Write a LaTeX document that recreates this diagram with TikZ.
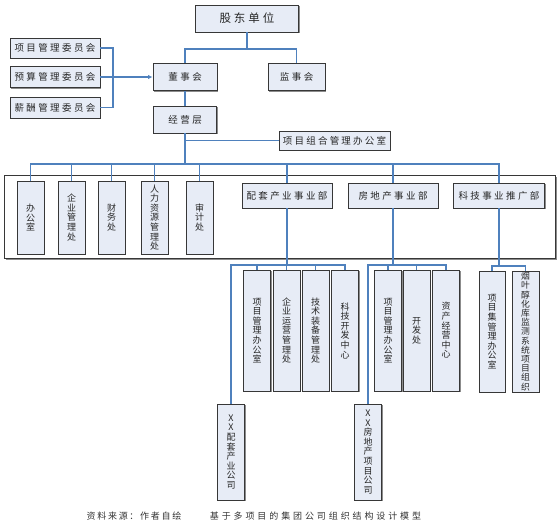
\documentclass[tikz,border=0pt]{standalone}
\usepackage{fontspec}
\setmainfont{Noto Sans CJK SC}
\usetikzlibrary{shadows,arrows.meta}
\definecolor{boxfill}{RGB}{231,236,246}
\definecolor{connc}{RGB}{79,129,189}
\definecolor{edgec}{RGB}{55,55,55}
\makeatletter
\newdimen\cjkgap
\def\cjksp#1#2{\cjkgap=#1\relax\cjksp@a#2\cjksp@end}
\def\cjksp@a#1#2\cjksp@end{#1\ifx\relax#2\relax\else\hspace{\cjkgap}\cjksp@a#2\cjksp@end\fi}
\newtoks\vtoks
\def\vt#1{\vtoks={}\vt@a#1\vt@end\the\vtoks}
\def\vt@a#1#2\vt@end{\vtoks=\expandafter{\the\vtoks#1}\ifx\relax#2\relax\else\vtoks=\expandafter{\the\vtoks\\}\vt@a#2\vt@end\fi}
\makeatother
\begin{document}
\begin{tikzpicture}[x=1pt,y=-1pt,
  box/.style={draw=edgec, line width=0.9pt, fill=boxfill, inner sep=0pt, text=black!85,
    drop shadow={shadow xshift=1.4pt, shadow yshift=-1.4pt, fill=black!45, opacity=1}},
  hbox/.style={box, font=\fontsize{9.5}{11}\selectfont},
  vbox/.style={box, align=center, font=\fontsize{9}{9.6}\selectfont, minimum width=27pt},
  conn/.style={draw=connc, line width=1.1pt},
  capt/.style={font=\fontsize{9}{10}\selectfont, text=black!80, inner sep=0pt}
]
\useasboundingbox (0,0) rectangle (559,531);

% container
\node[draw=edgec, line width=1pt, fill=white, minimum width=551pt, minimum height=83pt, inner sep=0pt,
  drop shadow={shadow xshift=1.6pt, shadow yshift=-1.6pt, fill=black!45, opacity=1}] (ctr) at (279.5,216.5) {};

% top
\node[hbox, minimum width=103pt, minimum height=27pt, font=\fontsize{11.5}{13}\selectfont] (gd) at (247,18.5) {\cjksp{3pt}{股东单位}};
\node[hbox, minimum width=64pt, minimum height=27pt] (dsh) at (185,77) {\cjksp{2.5pt}{董事会}};
\node[hbox, minimum width=57pt, minimum height=27pt] (jsh) at (296.5,77) {\cjksp{2.5pt}{监事会}};
\node[hbox, minimum width=90pt, minimum height=20pt] (c1) at (55,48) {\cjksp{2.4pt}{项目管理委员会}};
\node[hbox, minimum width=90pt, minimum height=21pt] (c2) at (55,77) {\cjksp{2.4pt}{预算管理委员会}};
\node[hbox, minimum width=90pt, minimum height=21pt] (c3) at (55,107.5) {\cjksp{2.4pt}{薪酬管理委员会}};
\node[hbox, minimum width=63pt, minimum height=27pt] (jyc) at (185,119.5) {\cjksp{2.5pt}{经营层}};
\node[hbox, minimum width=111pt, minimum height=19pt] (xm) at (334.5,140.5) {\cjksp{2.2pt}{项目组合管理办公室}};

% functional offices
\node[vbox, minimum height=73pt] (b1) at (30.5,217.5) {\vt{办公室}};
\node[vbox, minimum height=73pt] (b2) at (71.5,217.5) {\vt{企业管理处}};
\node[vbox, minimum height=73pt] (b3) at (111.5,217.5) {\vt{财务处}};
\node[vbox, minimum height=73pt] (b4) at (154.5,217.5) {\vt{人力资源管理处}};
\node[vbox, minimum height=73pt] (b5) at (199.5,217.5) {\vt{审计处}};

% divisions
\node[hbox, minimum width=90pt, minimum height=25pt] (d1) at (287,195.5) {\cjksp{2.4pt}{配套产业事业部}};
\node[hbox, minimum width=90pt, minimum height=25pt] (d2) at (393,195.5) {\cjksp{2.4pt}{房地产事业部}};
\node[hbox, minimum width=91pt, minimum height=25pt] (d3) at (499,195.5) {\cjksp{2.4pt}{科技事业推广部}};

% group 1
\node[vbox, minimum height=121pt] (e1) at (257,330.5) {\vt{项目管理办公室}};
\node[vbox, minimum height=121pt] (e2) at (286.5,330.5) {\vt{企业运营管理处}};
\node[vbox, minimum height=121pt] (e3) at (315.5,330.5) {\vt{技术装备管理处}};
\node[vbox, minimum height=121pt] (e4) at (345,330.5) {\vt{科技开发中心}};
\node[vbox, minimum height=96pt] (xx1) at (231,452) {\vt{XX配套产业公司}};

% group 2
\node[vbox, minimum height=121pt] (f1) at (388,330.5) {\vt{项目管理办公室}};
\node[vbox, minimum height=121pt] (f2) at (416.5,330.5) {\vt{开发处}};
\node[vbox, minimum height=121pt] (f3) at (446,330.5) {\vt{资产经营中心}};
\node[vbox, minimum height=96pt] (xx2) at (368,452) {\vt{XX房地产项目公司}};

% group 3
\node[vbox, minimum height=121pt, minimum width=26pt] (g1) at (492,331.5) {\vt{项目集管理办公室}};
\node[vbox, minimum height=121pt, font=\fontsize{8.8}{9.2}\selectfont] (g2) at (525.5,331.5) {\vt{烟叶醇化库监测系统项目组织}};

% caption
\node[capt] (cap1) at (134,516) {\cjksp{1.7pt}{资料来源：作者自绘}};
\node[capt] (cap2) at (315.5,516) {\cjksp{2.9pt}{基于多项目的集团公司组织结构设计模型}};

% junctions
\coordinate (t1) at (247,49);
\coordinate (cj) at (113,77);
\coordinate (bus) at (185,164);
\coordinate (s1) at (287,265);
\coordinate (s2) at (393,265);
\coordinate (s3) at (499,266);

% connectors
\draw[conn] (gd.south) -- (t1) -| (dsh.north);
\draw[conn] (t1) -| (jsh.north);
\draw[conn] (c1.east) -| (cj);
\draw[conn] (c3.east) -| (cj);
\draw[conn, -{Latex[length=4.5pt,width=4.5pt]}] (c2.east) -- (dsh.west);
\draw[conn] (dsh.south) -- (jyc.north);
\draw[conn] (jyc.south) -- (bus);
\draw[conn] (bus) |- (xm.west);
\foreach \n in {b1,b2,b3,b4,b5,d1,d2,d3} { \draw[conn] (bus) -| (\n.north); }
\draw[conn] (d1.south) -- (s1);
\foreach \n in {xx1,e1,e2,e3,e4} { \draw[conn] (s1) -| (\n.north); }
\draw[conn] (d2.south) -- (s2);
\foreach \n in {xx2,f1,f2,f3} { \draw[conn] (s2) -| (\n.north); }
\draw[conn] (d3.south) -- (s3);
\foreach \n in {g1,g2} { \draw[conn] (s3) -| (\n.north); }
\end{tikzpicture}
\end{document}
